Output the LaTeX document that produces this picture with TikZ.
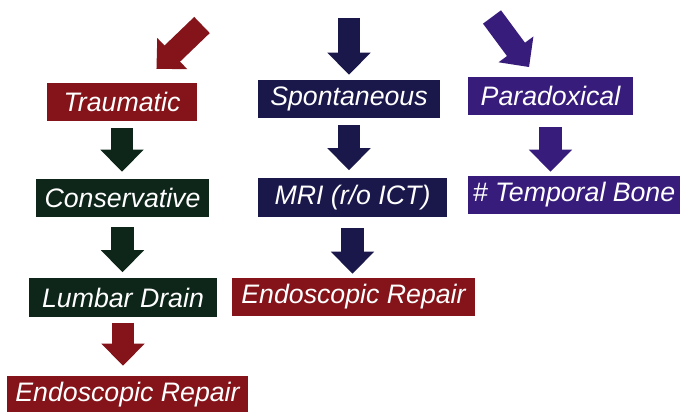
\documentclass[tikz,border=0pt]{standalone}
\usepackage{fontspec}
\setmainfont{Liberation Sans}
\usepackage{xcolor}
\usetikzlibrary{arrows.meta}
\definecolor{maroon}{RGB}{132, 20, 26}
\definecolor{navyblue}{RGB}{26, 24, 74}
\definecolor{violet}{RGB}{56, 28, 124}
\definecolor{forest}{RGB}{14, 38, 26}

\begin{document}
\begin{tikzpicture}[
  x=0.025cm, y=-0.025cm,
  every node/.style={font=\fontsize{19}{22}\selectfont\itshape},
  tag/.style={text=white, minimum height=0.95cm, inner sep=0pt, anchor=center},
  flow/.style={line width=0.56cm, -{Triangle[width=1.05cm, length=0.55cm]}, shorten <=0.175cm, shorten >=0.175cm}
]
  \useasboundingbox (0,0) rectangle (680,412);

  \node[tag, fill=maroon, minimum width=3.75cm] (trauma) at (122,102) {Traumatic};
  \node[tag, fill=navyblue, minimum width=4.55cm] (spont) at (349,99) {Spontaneous};
  \node[tag, fill=violet, minimum width=4.125cm] (parad) at (550.5,96) {Paradoxical};

  \node[tag, fill=forest, minimum width=4.325cm] (conserv) at (122.5,198) {Conservative};
  \node[tag, fill=navyblue, minimum width=4.725cm] (mri) at (352.5,197.5) {MRI (r/o ICT)};
  \node[tag, fill=violet, minimum width=5.3cm] (temporal) at (574,195) {\# Temporal Bone};

  \node[tag, fill=forest, minimum width=4.7cm] (lumbar) at (123,297.5) {Lumbar Drain};
  \node[tag, fill=maroon, minimum width=6.075cm] (endoMid) at (353.5,297) {Endoscopic Repair};

  \node[tag, fill=maroon, minimum width=6.025cm] (endoLow) at (127.5,395) {Endoscopic Repair};

  \coordinate (redtop) at (202,25);
  \coordinate (navytop) at (349,18);
  \coordinate (violettop) at (492,17);

  \draw[flow, maroon, shorten <=0pt, shorten >=0.5cm] (redtop) -- (trauma);
  \draw[flow, navyblue, shorten <=0pt, shorten >=0.125cm] (navytop) -- (spont.north);
  \draw[flow, violet, shorten <=0pt, shorten >=0.3cm] (violettop) -- (parad);

  \draw[flow, forest] (trauma.south) -- (trauma.south |- conserv.north);
  \draw[flow, navyblue, shorten >=0.2cm] (spont.south) -- (spont.south |- mri.north);
  \draw[flow, violet, shorten <=0.3cm, shorten >=0.1cm] (parad.south) -- (parad.south |- temporal.north);

  \draw[flow, forest, shorten <=0.25cm, shorten >=0.15cm] (conserv.south) -- (conserv.south |- lumbar.north);
  \draw[flow, navyblue, shorten <=0.275cm, shorten >=0.1cm] (mri.south) -- (mri.south |- endoMid.north);
  \draw[flow, maroon, shorten <=0.15cm, shorten >=0.25cm] (lumbar.south) -- (lumbar.south |- endoLow.north);

\end{tikzpicture}
\end{document}
